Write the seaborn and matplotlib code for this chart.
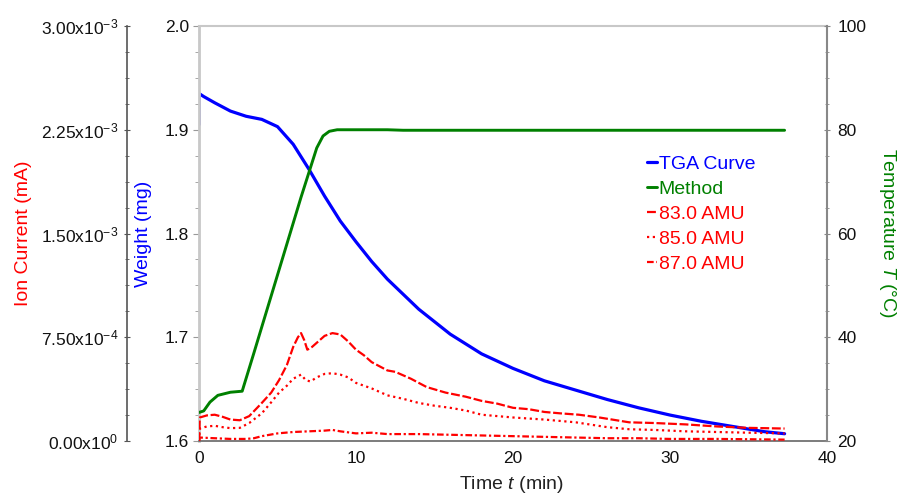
import numpy as np
import pandas as pd
import matplotlib
matplotlib.use("Agg")
import matplotlib.pyplot as plt
import seaborn as sns
from matplotlib.ticker import FixedLocator, FixedFormatter, MultipleLocator

# TGA weight curve (mg)
tga_time = [0, 0, 0.3, 1, 2, 3, 4, 5, 6, 7, 8, 9, 10, 11, 12, 14, 16, 18, 20,
            22, 24, 26, 28, 30, 32, 34, 36, 37.3]
tga_weight = [1.905, 1.935, 1.932, 1.926, 1.918, 1.913, 1.910, 1.903, 1.886,
              1.862, 1.836, 1.812, 1.792, 1.773, 1.756, 1.727, 1.703, 1.684,
              1.670, 1.658, 1.649, 1.640, 1.632, 1.625, 1.619, 1.614, 1.609, 1.607]

# Temperature program (°C)
method_time = [0, 0.3, 0.7, 1.2, 2.0, 2.75, 3.5, 4.5, 5.5, 6.5, 7.5, 7.9, 8.3,
               8.8, 9.5, 12, 13, 20, 30, 37.3]
method_temp = [25.5, 25.8, 27.5, 28.8, 29.4, 29.6, 37, 47, 57, 67, 76.5, 78.8,
               79.7, 80, 80, 80, 79.9, 79.9, 79.9, 79.9]

# Ion currents (mA)
ion83_time = [0, 0.05, 0.5, 1.0, 1.5, 2.0, 2.6, 3.2, 4.0, 4.6, 5.1, 5.6, 6.0,
              6.3, 6.5, 6.7, 6.9, 7.2, 7.6, 8.0, 8.5, 9.0, 9.5, 10.0, 10.5,
              11.0, 12.0, 12.5, 13.5, 14.5, 15.7, 17.0, 18.0, 19.0, 20.0, 21.0,
              22.0, 23.0, 24.2, 25.5, 27.4, 29, 31, 33, 35, 37.3]
ion83 = [0, 1.7e-4, 1.85e-4, 1.9e-4, 1.75e-4, 1.55e-4, 1.5e-4, 1.8e-4, 2.75e-4,
         3.5e-4, 4.4e-4, 5.5e-4, 6.8e-4, 7.5e-4, 7.8e-4, 7.3e-4, 6.6e-4,
         6.8e-4, 7.2e-4, 7.6e-4, 7.8e-4, 7.7e-4, 7.2e-4, 6.6e-4, 6.2e-4,
         5.7e-4, 5.1e-4, 5.0e-4, 4.5e-4, 3.9e-4, 3.5e-4, 3.2e-4, 2.9e-4,
         2.7e-4, 2.4e-4, 2.3e-4, 2.1e-4, 2.0e-4, 1.9e-4, 1.7e-4, 1.35e-4,
         1.3e-4, 1.2e-4, 1.05e-4, 0.95e-4, 0.9e-4]

ion85_time = [0, 0.05, 0.5, 1.0, 1.5, 2.0, 2.6, 3.2, 4.0, 4.6, 5.1, 5.6, 6.0,
              6.5, 6.8, 7.1, 7.5, 8.0, 8.5, 9.0, 9.5, 10.0, 11.0, 12.0, 13.0,
              14.0, 15.0, 16.0, 17.0, 18.0, 20.0, 22.0, 24.0, 26.0, 27.4, 29,
              31, 33, 35, 37.3]
ion85 = [0, 0.9e-4, 1.05e-4, 1.1e-4, 1.0e-4, 0.93e-4, 0.95e-4, 1.3e-4, 2.0e-4,
         2.8e-4, 3.5e-4, 4.0e-4, 4.5e-4, 4.8e-4, 4.4e-4, 4.3e-4, 4.6e-4,
         4.85e-4, 4.9e-4, 4.8e-4, 4.6e-4, 4.2e-4, 3.8e-4, 3.3e-4, 3.05e-4,
         2.75e-4, 2.55e-4, 2.4e-4, 2.2e-4, 1.9e-4, 1.7e-4, 1.55e-4, 1.35e-4,
         1.0e-4, 0.85e-4, 0.8e-4, 0.7e-4, 0.65e-4, 0.6e-4, 0.55e-4]

ion87_time = [0, 0.05, 1, 2, 3, 3.5, 4, 4.5, 5, 6, 7, 8, 8.5, 9, 10, 11, 12,
              14, 16, 18, 20, 22, 24, 26, 28, 30, 33, 37.3]
ion87 = [0, 0.25e-4, 0.2e-4, 0.15e-4, 0.15e-4, 0.2e-4, 0.35e-4, 0.45e-4,
         0.55e-4, 0.65e-4, 0.7e-4, 0.75e-4, 0.8e-4, 0.7e-4, 0.55e-4, 0.6e-4,
         0.5e-4, 0.5e-4, 0.45e-4, 0.4e-4, 0.35e-4, 0.3e-4, 0.25e-4, 0.2e-4,
         0.2e-4, 0.15e-4, 0.15e-4, 0.1e-4]

ion_ticks = [0, 7.5e-4, 1.5e-3, 2.25e-3, 3.0e-3]
ion_tick_labels = ["0.00x10$^{0}$", "7.50x10$^{-4}$", "1.50x10$^{-3}$",
                   "2.25x10$^{-3}$", "3.00x10$^{-3}$"]

BLUE = "#0000ff"
GREEN = "#008000"
RED = "#ff0000"
TICK_FS = 12.5
LABEL_FS = 14
LEGEND_FS = 14

sns.set_style("white")
plt.rcParams["font.family"] = ["Liberation Sans", "DejaVu Sans"]
plt.rcParams["mathtext.fontset"] = "custom"
plt.rcParams["mathtext.rm"] = "Liberation Sans"
plt.rcParams["mathtext.it"] = "Liberation Sans:italic"

fig = plt.figure(figsize=(8.99, 4.96), dpi=100)
ax = fig.add_axes([199 / 899, 1 - 441 / 496, 628 / 899, 415 / 496])
ax2 = ax.twinx()
ax3 = ax.twinx()

tga_df = pd.DataFrame({"t": tga_time, "w": tga_weight})
method_df = pd.DataFrame({"t": method_time, "T": method_temp})

sns.lineplot(data=tga_df, x="t", y="w", ax=ax, color=BLUE, lw=2.3,
             estimator=None, sort=False, label="TGA Curve", legend=False)
sns.lineplot(data=method_df, x="t", y="T", ax=ax2, color=GREEN, lw=2.1,
             estimator=None, sort=False, label="Method", legend=False)
sns.lineplot(x=ion83_time, y=ion83, ax=ax3, color=RED, lw=1.6,
             estimator=None, sort=False, label="83.0 AMU", legend=False)
sns.lineplot(x=ion85_time, y=ion85, ax=ax3, color=RED, lw=1.6,
             estimator=None, sort=False, label="85.0 AMU", legend=False)
sns.lineplot(x=ion87_time, y=ion87, ax=ax3, color=RED, lw=1.6,
             estimator=None, sort=False, label="87.0 AMU", legend=False)
ax3.lines[0].set_dashes((4, 1.2))
ax3.lines[1].set_dashes((1, 1.6))
ax3.lines[2].set_dashes((3, 1.2, 1, 1.2))

# x axis
ax.set_xlim(0, 40)
ax.xaxis.set_major_locator(MultipleLocator(10))
ax.xaxis.set_minor_locator(MultipleLocator(2.5))
ax.set_xlabel("Time $t$ (min)", fontsize=LABEL_FS, color="#222222",
              va="center", ha="center")
ax.xaxis.set_label_coords(0.498, -0.106)

# weight axis
ax.set_ylim(1.6, 2.0)
ax.yaxis.set_major_locator(MultipleLocator(0.1))
ax.yaxis.set_minor_locator(MultipleLocator(0.025))
ax.yaxis.set_major_formatter(matplotlib.ticker.FormatStrFormatter("%.1f"))
ax.set_ylabel("Weight (mg)", fontsize=LABEL_FS, color=BLUE, va="center", ha="center")
ax.yaxis.set_label_coords(-0.089, 0.5)

# temperature axis
ax2.set_ylim(20, 100)
ax2.yaxis.set_major_locator(MultipleLocator(20))
ax2.yaxis.set_minor_locator(MultipleLocator(5))
ax2.set_ylabel("Temperature $T$ (°C)", fontsize=LABEL_FS, color=GREEN,
               rotation=270, va="center", ha="center")
ax2.yaxis.set_label_coords(1.096, 0.5)

# ion current axis
ax3.set_ylim(0, 3e-3)
ax3.yaxis.set_ticks_position("left")
ax3.yaxis.set_label_position("left")
ax3.spines["left"].set_position(("axes", -0.1146))
ax3.yaxis.set_major_locator(FixedLocator(ion_ticks))
ax3.yaxis.set_major_formatter(FixedFormatter(ion_tick_labels))
ax3.yaxis.set_minor_locator(MultipleLocator(1.875e-4))
ax3.set_ylabel("Ion Current (mA)", fontsize=LABEL_FS, color=RED, va="center", ha="center")
ax3.yaxis.set_label_coords(-0.279, 0.5)

for a in (ax, ax2, ax3):
    for s in a.spines.values():
        s.set_visible(False)

ax.spines["left"].set_visible(True)
ax.spines["left"].set_color("#c8c8c8")
ax.spines["left"].set_linewidth(2)
ax.spines["top"].set_visible(True)
ax.spines["top"].set_color("#c8c8c8")
ax.spines["top"].set_linewidth(1.5)
ax.spines["bottom"].set_visible(True)
ax.spines["bottom"].set_color("#666666")
ax.spines["bottom"].set_linewidth(1.2)
ax2.spines["right"].set_visible(True)
ax2.spines["right"].set_color("#888888")
ax2.spines["right"].set_linewidth(1.5)
ax3.spines["left"].set_visible(True)
ax3.spines["left"].set_color("#555555")
ax3.spines["left"].set_linewidth(1.2)

ax.tick_params(axis="x", which="both", direction="inout", colors="#666666",
               labelcolor="#111111", labelsize=TICK_FS, pad=5)
ax.tick_params(axis="x", which="major", length=4)
ax.tick_params(axis="x", which="minor", length=3)
ax.tick_params(axis="y", which="both", direction="out", colors="#999999",
               labelcolor="#111111", labelsize=TICK_FS, pad=3, left=True)
ax.tick_params(axis="y", which="major", length=4)
ax.tick_params(axis="y", which="minor", length=3)
ax2.tick_params(axis="y", which="both", direction="inout", colors="#888888",
                labelcolor="#111111", labelsize=TICK_FS, pad=5, right=True)
ax2.tick_params(axis="y", which="major", length=5)
ax2.tick_params(axis="y", which="minor", length=3)
ax3.tick_params(axis="y", which="both", direction="inout", colors="#555555",
                labelcolor="#111111", labelsize=TICK_FS, pad=4, left=True)
ax3.tick_params(axis="y", which="major", length=4)
ax3.tick_params(axis="y", which="minor", length=3)

handles = [ax.lines[0], ax2.lines[0]] + list(ax3.lines[:3])
labels = ["TGA Curve", "Method", "83.0 AMU", "85.0 AMU", "87.0 AMU"]
leg = ax3.legend(handles, labels, loc="upper left",
                 bbox_to_anchor=((647 - 199) / 628, (441 - 155) / 415),
                 frameon=False, fontsize=LEGEND_FS, handlelength=0.5,
                 handletextpad=0.1, labelspacing=0.38, labelcolor="linecolor",
                 borderpad=0, borderaxespad=0)

fig.savefig("out.png", dpi=100)
